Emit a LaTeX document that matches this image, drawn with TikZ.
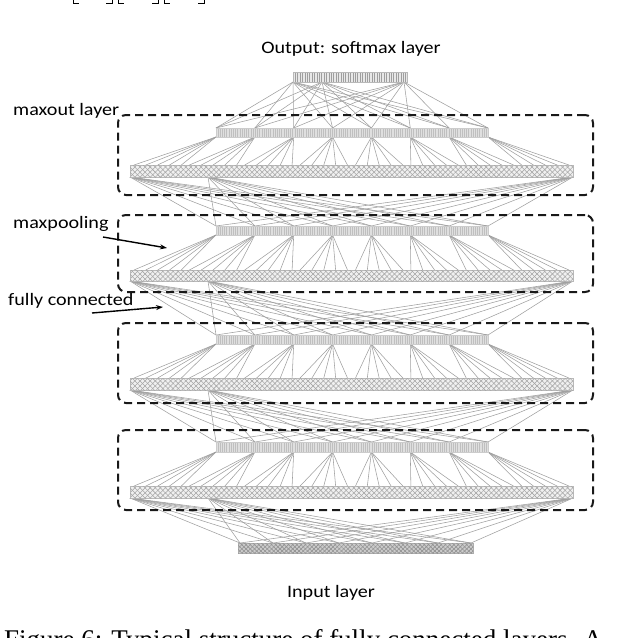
\documentclass[tikz,border=0pt]{standalone}
\usepackage{fontspec}
\newfontfamily\labfont{Carlito}
\newfontfamily\capfont{Liberation Serif}
\usetikzlibrary{patterns,patterns.meta,arrows.meta}
\newcommand\wtxt[1]{\scalebox{1.15}[1]{#1}}
\begin{document}
\begin{tikzpicture}[x=1pt,y=-1pt,
  conn/.style={draw=gray!75, line width=0.55pt},
  frame/.style={draw=black!90, line width=2pt, dash pattern=on 8pt off 5pt, rounded corners=8pt, inner sep=0, minimum width=475pt},
  upbar/.style={draw=gray!40, line width=0.3pt, preaction={fill=gray!25}, pattern={Lines[angle=90,distance=2.2pt,line width=0.5pt]}, pattern color=gray!50, minimum width=272pt, inner sep=0},
  lowbar/.style={draw=gray!55, line width=0.3pt, preaction={fill=gray!12}, pattern={Lines[angle=45,distance=3.6pt,line width=0.55pt]}, pattern color=gray!70, postaction={pattern={Lines[angle=-45,distance=3.6pt,line width=0.55pt]}, pattern color=gray!70}, minimum width=443pt, inner sep=0},
  outbar/.style={draw=gray!55, line width=0.3pt, preaction={fill=gray!18}, pattern={Lines[angle=90,distance=2.4pt,line width=0.6pt]}, pattern color=gray!75, minimum width=114pt, minimum height=10pt, inner sep=0},
  inbar/.style={draw=gray!65, line width=0.3pt, preaction={fill=gray!40}, pattern={Lines[angle=45,distance=3pt,line width=0.6pt]}, pattern color=gray!85, postaction={pattern={Lines[angle=-45,distance=3pt,line width=0.6pt]}, pattern color=gray!85}, minimum width=235pt, minimum height=10pt, inner sep=0},
  lbl/.style={font=\labfont\fontsize{17.5}{20}\selectfont, inner sep=0, text=black},
  arr/.style={-{Stealth[length=7pt,width=5pt]}, line width=1.4pt, draw=black}
]
\useasboundingbox (0,0) rectangle (638,638);

% ---- coordinates ----
\foreach \k/\ut/\ub/\lt/\lb in {1/128/137/165/177, 2/226/235/270/281, 3/335/344/378/390, 4/442/452/486/498}{
  \foreach \i in {0,...,7}{
    \coordinate (ut\k-\i) at (216+38.857*\i,\ut);
    \coordinate (ub\k-\i) at (216+38.857*\i,\ub);
    \foreach \j in {0,...,4}{
      \coordinate (lt\k-\i-\j) at (134+55.375*\i+11.84*\j,\lt);
    }
  }
  \coordinate (ls\k-1) at (130,\lb);
  \coordinate (ls\k-2) at (208,\lb);
  \coordinate (ls\k-3) at (573,\lb);
}
\coordinate (os1) at (293,82);
\coordinate (os2) at (322,82);
\coordinate (os3) at (404,82);
\foreach \i in {0,...,7}{ \coordinate (it\i) at (240+33*\i,543); }

% ---- connections ----
\foreach \k in {1,...,4}{
  \foreach \i in {0,...,7}{
    \foreach \j in {0,...,4}{ \draw[conn] (ub\k-\i) -- (lt\k-\i-\j); }
  }
}
\foreach \s in {1,2,3}{
  \foreach \i in {0,...,7}{ \draw[conn] (os\s) -- (ut1-\i); }
}
\foreach \k/\n in {1/2,2/3,3/4}{
  \foreach \s in {1,2,3}{
    \foreach \i in {0,...,7}{ \draw[conn] (ls\k-\s) -- (ut\n-\i); }
  }
}
\foreach \s in {1,2,3}{
  \foreach \i in {0,...,7}{ \draw[conn] (ls4-\s) -- (it\i); }
}

% ---- bars ----
\foreach \k/\ut/\ub/\lt/\lb in {1/128/137/165/177, 2/226/235/270/281, 3/335/344/378/390, 4/442/452/486/498}{
  \pgfmathsetmacro\uc{(\ut+\ub)/2}
  \pgfmathsetmacro\uh{\ub-\ut}
  \pgfmathsetmacro\lc{(\lt+\lb)/2}
  \pgfmathsetmacro\lh{\lb-\lt}
  \node[upbar, minimum height=\uh pt] (up\k) at (352,\uc) {};
  \node[lowbar, minimum height=\lh pt] (low\k) at (351.5,\lc) {};
}
\node[outbar] (outl) at (350,77) {};
\node[inbar] (inl) at (355.5,548) {};

% ---- frames ----
\foreach \k/\ft/\fb in {1/115/195, 2/215/292, 3/323/403, 4/430/510}{
  \pgfmathsetmacro\fc{(\ft+\fb)/2}
  \pgfmathsetmacro\fh{\fb-\ft}
  \node[frame, minimum height=\fh pt] (blk\k) at (355.5,\fc) {};
}

% ---- labels ----
\node[lbl, anchor=base] (tout) at (351,53) {\wtxt{Output: softmax layer}};
\node[lbl, anchor=base west] (tmax) at (13,115) {\wtxt{maxout layer}};
\node[lbl, anchor=base west] (tpool) at (13,228) {\wtxt{maxpooling}};
\node[lbl, anchor=base west] (tfull) at (8,305) {\wtxt{fully connected}};
\node[lbl, anchor=base] (tin) at (331,597) {\wtxt{Input layer}};

\coordinate (ap1) at (103,237);
\coordinate (ap2) at (167,248);
\coordinate (af1) at (92,313);
\coordinate (af2) at (163,307);
\draw[arr] (ap1) -- (ap2);
\draw[arr] (af1) -- (af2);

% ---- clipped surrounding text ----
\draw[line width=0.9pt] (73,-1) -- (73,3) -- (79,3);
\draw[line width=0.9pt] (106,3) -- (112,3) -- (112,-1);
\draw[line width=0.9pt] (118,-1) -- (118,3) -- (124,3);
\draw[line width=0.9pt] (152,3) -- (158,3) -- (158,-1);
\draw[line width=0.9pt] (164,-1) -- (164,3) -- (170,3);
\draw[line width=0.9pt] (198,3) -- (204,3) -- (204,-1);
\node[font=\capfont\fontsize{27}{30}\selectfont, anchor=base west, inner sep=0] (cap) at (4,648) {Figure 6: Typical structure of fully connected layers. A};
\end{tikzpicture}
\end{document}
